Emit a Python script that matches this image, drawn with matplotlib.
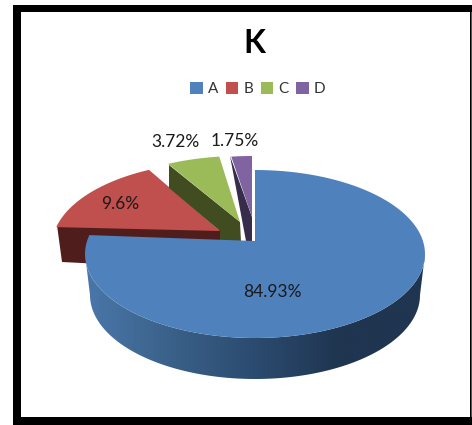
#饼图 K，Excel 风格的三维分离饼图
import numpy as np
import matplotlib
matplotlib.use('Agg')
import matplotlib.pyplot as plt
from matplotlib.patches import Patch, Polygon, Rectangle

plt.rcParams['font.family'] = ['Lato', 'DejaVu Sans']

categories = ['A', 'B', 'C', 'D']
shares = [84.93, 9.6, 3.72, 1.75]
#原图的透视把角度拉伸了，这里是从图上量出来的扇形角度，不是 shares*3.6
drawn_spans = [283, 52, 18, 7]
colors = ['#4f81bd', '#c0504d', '#9bbb59', '#8064a2']

fig = plt.figure(figsize=(4.72, 4.25), dpi=100)
ax = fig.add_axes([0, 0, 1, 1])
ax.set_xlim(0, 472)
ax.set_ylim(425, 0)
ax.axis('off')

#黑色边框
ax.add_patch(Rectangle((13, 4.5), 459, 420.5, fc='black', ec='none'))
ax.add_patch(Rectangle((21, 12), 448, 405, fc='white', ec='none'))
ax.add_patch(Rectangle((469, 12), 1, 405, fc='white', ec='none'))
ax.add_patch(Rectangle((470.5, 12), 1.5, 405, fc='#555555', ec='none'))

def arc(cx, cy, rx, ry, start, end):
    t = np.radians(np.linspace(start, end, 120))
    return np.column_stack([cx + rx * np.sin(t), cy - ry * np.cos(t)])

edges = np.concatenate([[0], np.cumsum(drawn_spans)])

#蓝色的侧面，用渐变
top_front = arc(255, 254, 170, 84, 90, 270)
bottom_front = arc(255, 295, 165, 84, 270, 90)
side = Polygon(np.vstack([top_front, bottom_front]), fc='none', ec='none', transform=ax.transData)
ax.add_patch(side)
grad = matplotlib.colors.LinearSegmentedColormap.from_list(
    'side', ['#4a77aa', '#3a6189', '#2b4b6f', '#1f3550', '#1f3550'])
im = ax.imshow(np.linspace(0, 1, 256).reshape(1, -1), cmap=grad, extent=(85, 426, 385, 250),
               aspect='auto', zorder=1)
im.set_clip_path(side)
ax.set_xlim(0, 472)
ax.set_ylim(425, 0)

#红色切面
ax.add_patch(Polygon([(57, 225), (220, 230), (220, 270), (62, 262)], fc='#4f1e1c', ec='none', zorder=2))
#红色顶面
red_arc = arc(220, 246, 168, 84, edges[1], edges[2])
ax.add_patch(Polygon(np.vstack([[(220, 231)], red_arc]), fc=colors[1], ec='none', zorder=3))
#绿色切面
ax.add_patch(Polygon([(169, 165), (240, 222), (241, 242), (220, 242), (220, 231), (169, 188)],
                     fc='#414d20', ec='none', zorder=4))
#绿色顶面
green_arc = arc(240, 240, 170, 84, edges[2], edges[3])
ax.add_patch(Polygon(np.vstack([[(240, 222)], green_arc]), fc=colors[2], ec='none', zorder=5))
#紫色切面和顶面
ax.add_patch(Polygon([(230, 156), (252, 217), (252, 241), (246, 241)], fc='#372c4a', ec='none', zorder=4))
purple_arc = arc(252, 240, 170, 84, edges[3], edges[4])
ax.add_patch(Polygon(np.vstack([[(252, 217)], purple_arc]), fc=colors[3], ec='none', zorder=5))
#蓝色顶面
blue_arc = arc(255, 254, 170, 84, edges[0], edges[1])
ax.add_patch(Polygon(np.vstack([[(255, 241)], blue_arc]), fc=colors[0], ec='none', zorder=6))

#数据标签
label_pos = [(272, 292), (120, 204), (175, 142), (235, 141)]
for s, (x, y) in zip(shares, label_pos):
    ax.text(x, y, '{:g}%'.format(s), ha='center', va='center', fontsize=12.5, color='#1a1a1a', zorder=7)

ax.text(254, 43, 'K', ha='center', va='center', fontsize=23, fontweight='bold', color='black')

handles = [Patch(fc=c, ec='none', label=n) for c, n in zip(colors, categories)]
ax.legend(handles=handles, ncol=4, loc='center', bbox_to_anchor=(258 / 472, 1 - 89 / 425), frameon=False,
          fontsize=11, labelcolor='#333333', handlelength=0.8, handleheight=0.8,
          handletextpad=0.35, columnspacing=0.5, borderpad=0)

fig.savefig('out.png', dpi=100)
